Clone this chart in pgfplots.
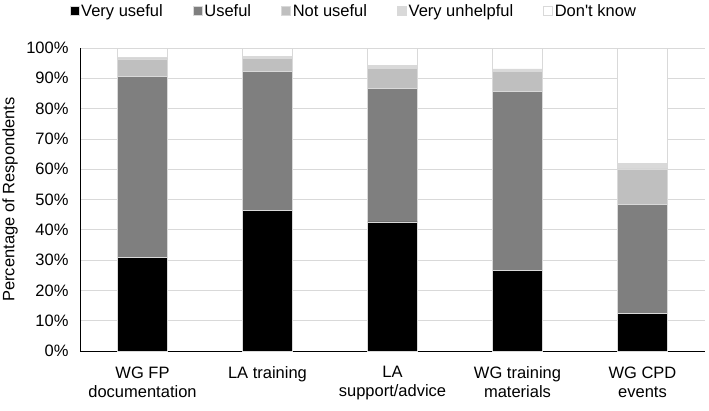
\documentclass[border=0pt]{standalone}
\usepackage{pgfplots}
\pgfplotsset{compat=1.18}
\usepackage{fontspec}
\setmainfont{Liberation Sans}
\definecolor{cVU}{HTML}{000000}
\definecolor{cU}{HTML}{7F7F7F}
\definecolor{cNU}{HTML}{BFBFBF}
\definecolor{cVUn}{HTML}{D9D9D9}
\definecolor{cEdge}{HTML}{D9D9D9}
\definecolor{cGrid}{HTML}{D9D9D9}
\newcommand{\chartfont}{\fontsize{16.5}{19}\selectfont}
\begin{document}
\begin{tikzpicture}[x=1pt,y=1pt]
\path[use as bounding box] (0,0) rectangle (709,-410);
\begin{axis}[
  at={(80pt,-351pt)}, anchor=south west,
  scale only axis, width=625pt, height=303pt,
  ybar stacked, bar width=50pt,
  xmin=-0.5, xmax=4.5, ymin=0, ymax=100,
  xtick={0,1,2,3,4},
  xticklabels={WG FP\\documentation, LA training, LA\\support/advice, WG training\\materials, WG CPD\\events},
  xticklabel style={align=center, font=\chartfont, yshift=-12pt},
  ytick={0,10,...,100},
  yticklabel={\pgfmathprintnumber{\tick}\%},
  yticklabel style={font=\chartfont, xshift=-8pt},
  /pgf/number format/assume math mode=true,
  ymajorgrids, grid style={draw=cGrid, line width=0.75pt},
  axis x line*=bottom, axis y line*=left,
  x axis line style={-, black, line width=0.8pt},
  y axis line style={-, black, line width=0.6pt},
  major tick length=0pt,
  ylabel={Percentage of Respondents},
  ylabel style={font=\chartfont, at={(axis description cs:-0.112,0.5)}, anchor=center, rotate=0},
  legend columns=-1,
  legend style={at={(0.438,1.122)}, anchor=center, draw=none, fill=none,
    font=\chartfont, nodes={inner sep=2pt},
    /tikz/every even column/.append style={column sep=28pt}},
  legend image code/.code={\draw[#1, line width=0.6pt] (0pt,-4.5pt) rectangle (9pt,4.5pt);},
  every axis plot/.append style={draw=cEdge, line width=0.6pt},
]
\addplot[fill=cVU, draw=cEdge] coordinates {(0,30.9) (1,46.5) (2,42.6) (3,26.6) (4,12.3)};
\addplot[fill=cU, draw=cEdge] coordinates {(0,59.7) (1,45.7) (2,44.0) (3,59.0) (4,36.2)};
\addplot[fill=cNU, draw=cEdge] coordinates {(0,5.8) (1,4.5) (2,6.6) (3,6.7) (4,11.6)};
\addplot[fill=cVUn, draw=cEdge] coordinates {(0,0.6) (1,0.4) (2,1.0) (3,0.8) (4,1.7)};
\addplot[fill=white, draw=cEdge] coordinates {(0,3.0) (1,2.9) (2,5.8) (3,6.9) (4,38.2)};
\legend{Very useful, Useful, Not useful, Very unhelpful, Don\textquotesingle t know}
\end{axis}
\end{tikzpicture}
\end{document}
